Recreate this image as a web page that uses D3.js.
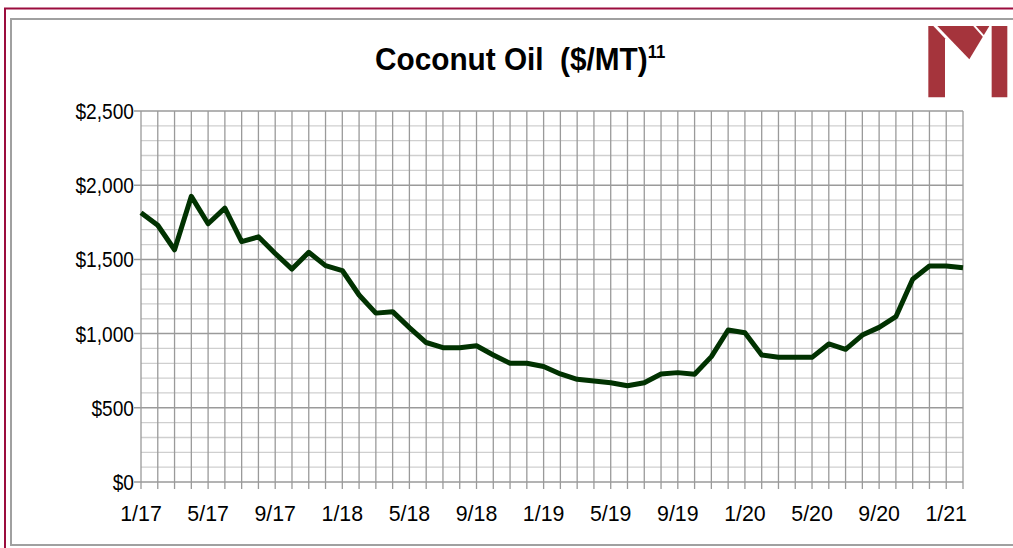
<!DOCTYPE html>
<html>
<head>
<meta charset="utf-8">
<script src="https://cdn.jsdelivr.net/npm/d3@7"></script>
<style>
  body { margin: 0; background: #fff; }
  svg { display: block; }
  .lbl { font-family: "Liberation Sans", Arial, sans-serif; font-size: 22px; fill: #000; }
</style>
</head>
<body>
<svg id="chart" width="1013" height="548"></svg>
<script>
// months, 1/17 .. 2/21
const months = ["1/17","2/17","3/17","4/17","5/17","6/17","7/17","8/17","9/17","10/17","11/17","12/17",
  "1/18","2/18","3/18","4/18","5/18","6/18","7/18","8/18","9/18","10/18","11/18","12/18",
  "1/19","2/19","3/19","4/19","5/19","6/19","7/19","8/19","9/19","10/19","11/19","12/19",
  "1/20","2/20","3/20","4/20","5/20","6/20","7/20","8/20","9/20","10/20","11/20","12/20",
  "1/21","2/21"];

const price = [1815, 1730, 1565, 1925, 1740, 1845, 1620, 1652, 1540, 1435, 1548, 1458,
  1425, 1260, 1138, 1148, 1040, 940, 905, 905, 918, 856, 800, 800,
  778, 728, 692, 681, 669, 649, 669, 728, 737, 726, 845, 1024,
  1006, 856, 840, 840, 840, 930, 894, 990, 1042, 1114, 1366, 1455,
  1455, 1444];

const xTickLabels = ["1/17","5/17","9/17","1/18","5/18","9/18","1/19","5/19","9/19","1/20","5/20","9/20","1/21"];
const yTicks = [0, 500, 1000, 1500, 2000, 2500];

const svg = d3.select("#chart");

// frame
svg.append("rect")
    .attr("x", 11).attr("y", 19).attr("width", 1020).attr("height", 526)
    .attr("fill", "none").attr("stroke", "#a0a0a0").attr("stroke-width", 2);
svg.append("path")
    .attr("d", "M5,548 V8.5 H1013")
    .attr("fill", "none").attr("stroke", "#9b0d3e").attr("stroke-width", 2);

let margin = {top: 111, right: 50, bottom: 66, left: 141};
let x = d3.scalePoint().domain(months).range([margin.left, 963]);
let y = d3.scaleLinear().domain([0, 2500]).range([482, margin.top]);

// minor horizontal grid
svg.append("g")
    .selectAll("line")
    .data(d3.range(0, 2501, 100).filter(v => v % 500 !== 0))
    .join("line")
    .attr("x1", margin.left).attr("x2", 963)
    .attr("y1", d => y(d)).attr("y2", d => y(d))
    .attr("stroke", "#cfcfcf").attr("stroke-width", 1.3);

// vertical grid + ticks
svg.append("g")
    .selectAll("line")
    .data(months)
    .join("line")
    .attr("x1", d => x(d)).attr("x2", d => x(d))
    .attr("y1", margin.top).attr("y2", 489)
    .attr("stroke", "#9a9a9a").attr("stroke-width", 1.3);

// major horizontal grid + ticks
svg.append("g")
    .selectAll("line")
    .data(yTicks)
    .join("line")
    .attr("x1", margin.left - 7).attr("x2", 963)
    .attr("y1", d => y(d)).attr("y2", d => y(d))
    .attr("stroke", "#9a9a9a").attr("stroke-width", 1.5);

// y labels (slightly condensed)
svg.append("g")
    .selectAll("text")
    .data(yTicks)
    .join("text")
    .attr("class", "lbl")
    .attr("transform", d => `translate(134,${y(d) + 8}) scale(0.87,1)`)
    .attr("text-anchor", "end")
    .text(d => "$" + d3.format(",")(d));

// x labels
svg.append("g")
    .selectAll("text")
    .data(xTickLabels)
    .join("text")
    .attr("class", "lbl")
    .attr("transform", d => `translate(${x(d)},521) scale(0.97,1)`)
    .attr("text-anchor", "middle")
    .text(d => d);

// price line
let line = d3.line()
    .x((d, i) => x(months[i]))
    .y(d => y(d));

svg.append("path")
    .datum(price)
    .attr("d", line)
    .attr("fill", "none")
    .attr("stroke", "#013201")
    .attr("stroke-width", 5)
    .attr("stroke-linejoin", "round");

// title
let title = svg.append("text")
    .attr("transform", "translate(375,70) scale(0.93,1)")
    .attr("font-family", "'Liberation Sans', Arial, sans-serif")
    .attr("font-weight", "bold")
    .attr("font-size", 32)
    .attr("fill", "#000");
title.append("tspan").text("Coconut Oil\u00a0\u00a0($/MT)");
title.append("tspan").attr("font-size", 18).attr("dy", -12).text("11");

// logo
let logo = svg.append("g").attr("transform", "translate(920,20) scale(0.3333)").attr("fill", "#a5343c");
logo.append("polygon").attr("points", "25,18 40,18 75,55 75,232 25,232");
logo.append("polygon").attr("points", "52,18 208,18 148,118");
logo.append("polygon").attr("points", "215,18 262,18 262,232 215,232");
logo.append("line")
    .attr("x1", 160).attr("y1", 14).attr("x2", 192).attr("y2", 50)
    .attr("stroke", "#fff").attr("stroke-width", 6);
</script>
</body>
</html>
